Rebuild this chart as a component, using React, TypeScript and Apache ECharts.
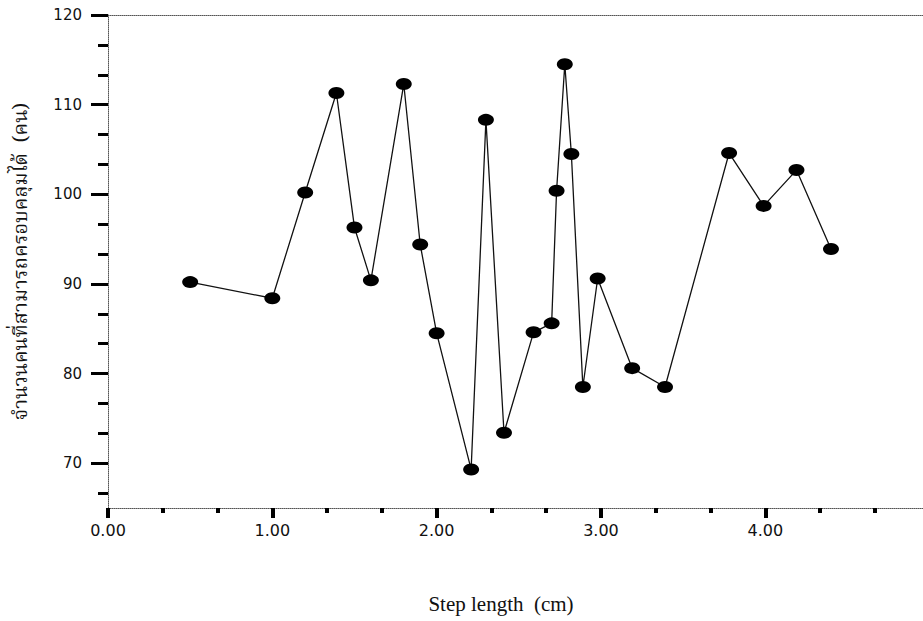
import React, { useEffect, useRef } from "react";
import * as echarts from "echarts";

const stepLength = [0.5, 1.0, 1.2, 1.39, 1.5, 1.6, 1.8, 1.9, 2.0, 2.21, 2.3, 2.41, 2.59, 2.7, 2.73, 2.78, 2.82, 2.89, 2.98, 3.19, 3.39, 3.78, 3.99, 4.19, 4.4];
const people = [90.2, 88.4, 100.2, 111.3, 96.3, 90.4, 112.3, 94.4, 84.5, 69.3, 108.3, 73.4, 84.6, 85.6, 100.4, 114.5, 104.5, 78.5, 90.6, 80.6, 78.5, 104.6, 98.7, 102.7, 93.9];
const xMajorTicks = [0, 1, 2, 3, 4];
const xMinorTicks = [0.333, 0.667, 1.333, 1.667, 2.333, 2.667, 3.333, 3.667, 4.333, 4.667];
const yMajorTicks = [70, 80, 90, 100, 110, 120];
const yMinorTicks = [66.67, 73.33, 76.67, 83.33, 86.67, 93.33, 96.67, 103.33, 106.67, 113.33, 116.67];
const xTitle = "Step length\u00a0\u00a0(cm)";
const yTitle = "จำนวนคนที่สามารถครอบคลุมได้\u00a0\u00a0(คน)";

export default function App() {
  const ref = useRef<HTMLDivElement>(null);
  useEffect(() => {
    if (!ref.current) return;
    const chart = echarts.init(ref.current, null, { renderer: "svg" });
    const dotted = { color: "#555", width: 1, type: "dotted" as const };
    const xBase = { type: "value" as const, min: 0, max: 4.96, splitLine: { show: false } };
    const yBase = { type: "value" as const, min: 65, max: 120, splitLine: { show: false } };
    chart.setOption({
      animation: false,
      backgroundColor: "#ffffff",
      grid: { left: 108, top: 15, right: 0, height: 493, containLabel: false },
      xAxis: [
        {
          ...xBase,
          position: "bottom",
          axisLine: { show: true, onZero: false, lineStyle: dotted },
          axisTick: { show: true, customValues: xMajorTicks, length: 10, lineStyle: { color: "#000", width: 4 } },
          axisLabel: {
            customValues: xMajorTicks,
            margin: 14,
            fontSize: 16,
            color: "#111",
            fontFamily: "DejaVu Sans",
            formatter: (v: number) => v.toFixed(2),
          },
        },
        {
          ...xBase,
          position: "top",
          axisLine: { show: true, lineStyle: dotted },
          axisTick: { show: false },
          axisLabel: { show: false },
        },
        {
          ...xBase,
          position: "bottom",
          axisLine: { show: false },
          axisTick: { show: true, customValues: xMinorTicks, length: 5, lineStyle: { color: "#000", width: 4 } },
          axisLabel: { show: false },
        },
      ],
      yAxis: [
        {
          ...yBase,
          position: "left",
          axisLine: { show: true, onZero: false, lineStyle: dotted },
          axisTick: { show: true, customValues: yMajorTicks, length: 17, lineStyle: { color: "#000", width: 3 } },
          axisLabel: {
            show: true,
            customValues: yMajorTicks,
            margin: 26,
            fontSize: 15,
            color: "#111",
            fontFamily: "DejaVu Sans",
          },
          name: yTitle,
          nameLocation: "middle",
          nameRotate: 90,
          nameGap: 76,
          nameTextStyle: { fontSize: 20, color: "#111", fontFamily: "Noto Serif Thai, Noto Sans Thai, Loma, Garuda, Liberation Serif, serif" },
        },
        {
          ...yBase,
          position: "left",
          axisLine: { show: false },
          axisTick: { show: true, customValues: yMinorTicks, length: 10, lineStyle: { color: "#000", width: 3 } },
          axisLabel: { show: false },
        },
      ],
      graphic: [
        {
          type: "text",
          x: 501,
          y: 604,
          style: {
            text: xTitle,
            fontSize: 21,
            fill: "#111",
            fontFamily: "Liberation Serif, Times New Roman, serif",
            align: "center",
            verticalAlign: "middle",
          },
        },
      ],
      series: [
        {
          type: "line",
          xAxisIndex: 0,
          yAxisIndex: 0,
          data: stepLength.map((x, i) => [x, people[i]]),
          symbol: "circle",
          symbolSize: [16, 12],
          lineStyle: { color: "#111", width: 1.3 },
          itemStyle: { color: "#000" },
          z: 3,
        },
      ],
    });
    return () => chart.dispose();
  }, []);
  return <div ref={ref} style={{ position: "absolute", left: 0, top: 0, width: 923, height: 621 }} />;
}
